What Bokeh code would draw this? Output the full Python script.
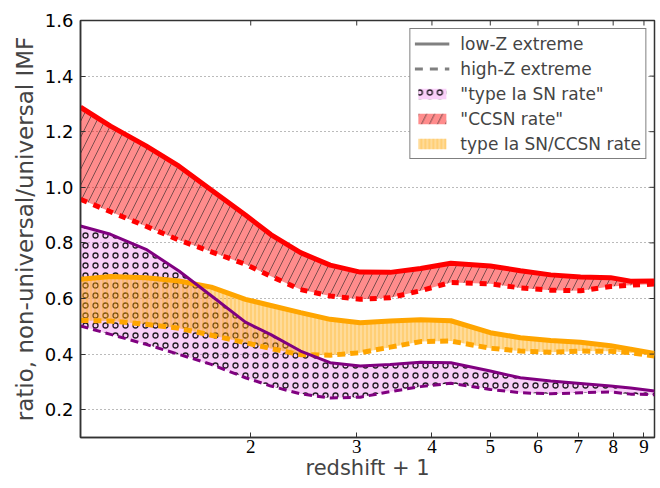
from bokeh.plotting import figure
from bokeh.models import (ColumnDataSource, FixedTicker, Legend, LegendItem, Range1d,
                          PrintfTickFormatter)
from bokeh.embed import file_html
from bokeh.resources import INLINE

# redshift + 1
zp1 = [1.043, 1.17, 1.34, 1.52, 1.72, 1.96, 2.16, 2.42, 2.71, 3.04, 3.41, 3.83, 4.30,
       5.00, 5.61, 6.30, 7.06, 7.92, 8.55, 9.37]

# "CCSN rate"
ccsn_low = [1.288, 1.22, 1.149, 1.076, 0.99, 0.90, 0.83, 0.765, 0.72, 0.695, 0.694, 0.708,
            0.727, 0.717, 0.70, 0.685, 0.677, 0.675, 0.662, 0.663]
ccsn_high = [0.957, 0.912, 0.86, 0.81, 0.768, 0.723, 0.68, 0.632, 0.609, 0.597, 0.603, 0.628,
             0.658, 0.653, 0.638, 0.63, 0.628, 0.643, 0.648, 0.652]

# "type Ia SN rate"
ia_low = [0.861, 0.831, 0.777, 0.699, 0.61, 0.515, 0.47, 0.411, 0.369, 0.357, 0.363, 0.371,
          0.369, 0.339, 0.315, 0.303, 0.294, 0.285, 0.278, 0.267]
ia_high = [0.501, 0.471, 0.435, 0.399, 0.363, 0.315, 0.285, 0.257, 0.242, 0.245, 0.265, 0.283,
           0.295, 0.273, 0.261, 0.257, 0.261, 0.264, 0.256, 0.254]

# type Ia SN/CCSN rate
ratio_low = [0.669, 0.679, 0.675, 0.663, 0.641, 0.597, 0.575, 0.549, 0.525, 0.513, 0.519, 0.524,
             0.52, 0.477, 0.459, 0.449, 0.443, 0.43, 0.418, 0.402]
ratio_high = [0.521, 0.519, 0.507, 0.493, 0.468, 0.441, 0.42, 0.398, 0.396, 0.405, 0.425, 0.445,
              0.447, 0.421, 0.411, 0.407, 0.411, 0.41, 0.405, 0.393]

x_ticks = [2, 3, 4, 5, 6, 7, 8, 9]
y_ticks = [0.2, 0.4, 0.6, 0.8, 1.0, 1.2, 1.4, 1.6]

X0, X1, Y0, Y1 = 1.043, 9.37, 0.1, 1.6

src = ColumnDataSource(data=dict(x=zp1, cl=ccsn_low, ch=ccsn_high, il=ia_low, ih=ia_high,
                                 rl=ratio_low, rh=ratio_high))

p = figure(width=660, height=488, x_axis_type="log", output_backend="svg",
           toolbar_location=None, x_range=Range1d(X0, X1), y_range=Range1d(Y0, Y1),
           min_border_left=80, min_border_right=6, min_border_top=20, min_border_bottom=51)

# fills
ia_area = p.varea(x="x", y1="ih", y2="il", source=src, fill_color="violet", fill_alpha=0.38,
                  hatch_pattern="ring", hatch_scale=10, hatch_weight=1.3, hatch_color="black",
                  hatch_alpha=0.85)
cc_area = p.varea(x="x", y1="ch", y2="cl", source=src, fill_color="red", fill_alpha=0.45,
                  hatch_pattern="right_diagonal_line", hatch_scale=16, hatch_weight=0.7,
                  hatch_color="#222222", hatch_alpha=0.85)
r_area = p.varea(x="x", y1="rh", y2="rl", source=src, fill_color="orange", fill_alpha=0.4,
                 hatch_pattern="vertical_line", hatch_scale=4, hatch_weight=1.5,
                 hatch_color="orange", hatch_alpha=0.3)

# lines
p.line("x", "cl", source=src, line_color="red", line_width=5)
p.line("x", "ch", source=src, line_color="red", line_width=5, line_dash="7 7")
p.line("x", "rl", source=src, line_color="orange", line_width=5)
p.line("x", "rh", source=src, line_color="orange", line_width=5, line_dash="8 5")
p.line("x", "il", source=src, line_color="purple", line_width=3)
p.line("x", "ih", source=src, line_color="purple", line_width=3, line_dash="8 5")

nan = float("nan")
proxy = ColumnDataSource(data=dict(x=[nan, nan], y=[nan, nan]))
leg_solid = p.line("x", "y", source=proxy, line_color="gray", line_width=3)
leg_dash = p.line("x", "y", source=proxy, line_color="gray", line_width=3, line_dash="8 7")

legend = Legend(items=[
    LegendItem(label="low-Z extreme", renderers=[leg_solid]),
    LegendItem(label="high-Z extreme", renderers=[leg_dash]),
    LegendItem(label='"type Ia SN rate"', renderers=[ia_area]),
    LegendItem(label='"CCSN rate"', renderers=[cc_area]),
    LegendItem(label="type Ia SN/CCSN rate", renderers=[r_area]),
], location="top_right")
legend.border_line_color = "black"
legend.border_line_width = 1
legend.background_fill_alpha = 1
legend.label_text_font = "DejaVu Sans"
legend.label_text_font_size = "17px"
legend.glyph_width = 35
legend.glyph_height = 13
legend.label_height = 21
legend.label_standoff = 11
legend.spacing = 4
legend.padding = 4
legend.margin = 8
p.add_layout(legend)

# axes
xa = p.xaxis[0]
xa.ticker = FixedTicker(ticks=x_ticks, minor_ticks=[])
xa.formatter = PrintfTickFormatter(format="%d")
xa.major_label_text_font = "Liberation Serif"
xa.major_label_text_font_size = "19px"
xa.major_label_standoff = 2
xa.axis_label = "redshift + 1"
xa.axis_label_text_font = "DejaVu Sans"
xa.axis_label_text_font_size = "21px"
xa.axis_label_text_font_style = "normal"
xa.axis_label_standoff = 0

ya = p.yaxis[0]
ya.ticker = FixedTicker(ticks=y_ticks, minor_ticks=[])
ya.formatter = PrintfTickFormatter(format="%.1f")
ya.major_label_text_font = "DejaVu Sans"
ya.major_label_text_font_size = "18px"
ya.axis_label = "ratio, non-universal/universal IMF"
ya.axis_label_text_font = "DejaVu Sans"
ya.axis_label_text_font_size = "23px"
ya.axis_label_text_font_style = "normal"
ya.axis_label_standoff = 4
ya.major_label_standoff = 7

for ax in [xa, ya]:
    ax.major_tick_in = 5
    ax.major_tick_out = 0
    ax.minor_tick_in = 0
    ax.minor_tick_out = 0
    ax.axis_line_color = "#333333"
    ax.axis_line_width = 1.5
    ax.major_tick_line_color = "#333333"
    ax.major_label_text_color = "black"

# inward ticks on the top and right edges of the frame (5 px long)
frame_h, frame_w = 417.0, 574.0
dy = (Y1 - Y0) * 5.0 / frame_h
fx = (X1 / X0) ** (5.0 / frame_w)
p.segment(x0=x_ticks, x1=x_ticks, y0=[Y1] * len(x_ticks), y1=[Y1 - dy] * len(x_ticks),
          line_color="#333333", line_width=1)
p.segment(x0=[X1] * len(y_ticks), x1=[X1 / fx] * len(y_ticks), y0=y_ticks, y1=y_ticks,
          line_color="#333333", line_width=1)

p.xgrid.visible = False
p.ygrid.grid_line_color = "#777777"
p.ygrid.grid_line_dash = "1 3"
p.ygrid.grid_line_width = 1
p.outline_line_color = "#333333"
p.outline_line_width = 1.5
p.background_fill_color = "white"
p.border_fill_color = "white"

open("out.html", "w").write(file_html(p, INLINE))
